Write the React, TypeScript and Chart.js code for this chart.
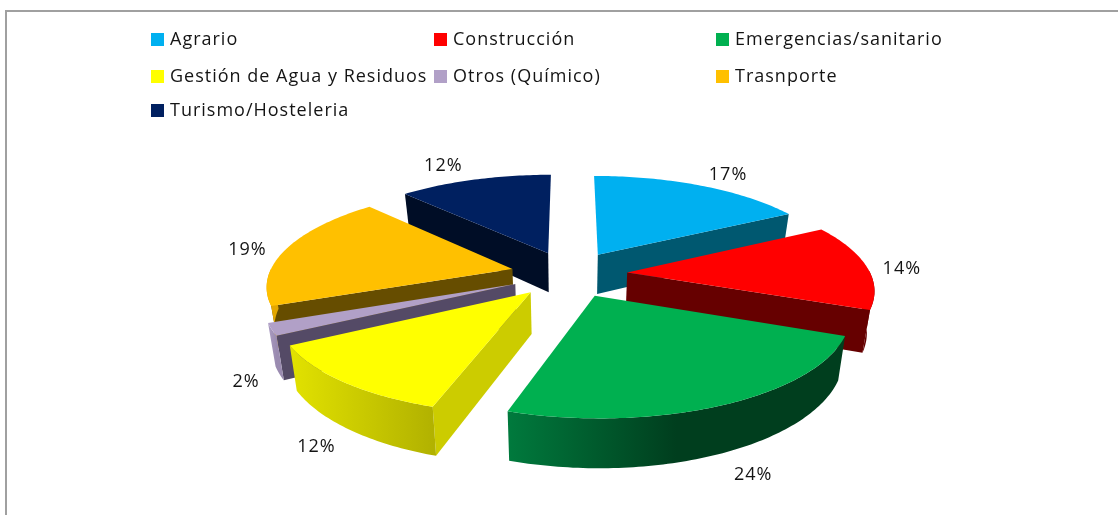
import React, { useEffect, useRef } from "react";
import { Chart, registerables } from "chart.js";

Chart.register(...registerables);

const categories = ["Agrario", "Construcción", "Emergencias/sanitario", "Gestión de Agua y Residuos", "Otros (Químico)", "Trasnporte", "Turismo/Hosteleria"];
const shares = [17, 14, 24, 12, 2, 19, 12];
const topColors = ["#00b0f0", "#ff0000", "#00b050", "#ffff00", "#b1a0c7", "#ffc000", "#002060"];
const cutColors = ["#005870", "#660000", "#004020", "#cccc00", "#544a66", "#664d00", "#000d26"];
const wallLeft = ["#005870", "#660000", "#007a3d", "#e2e200", "#ab9cc2", "#e6a800", "#000d26"];
const wallRight = ["#005870", "#660000", "#003e1e", "#b2b200", "#9a8bb0", "#cc9a00", "#000d26"];
const labelReach = [1.5, 1.38, 1.4, 1.4, 1.33, 1.4, 1.55];
const labelNudgeX = [4, 2, 4, 8, -2, -4, -12];
const labelNudgeY = [5, 3, -1, 0, 4, 4, 6];

const EXPLODE = 0.24;
const PERSPECTIVE = 0.154;
const SCALE_X = 1.01;
const SCALE_Y = 0.4;
const DEPTH = 40.5;
const FLOOR_SHRINK = 0.975;

const FONT = '18px "Open Sans"';
const TEXT_COLOR = "#141414";

const pie3d = {
  id: "pie3d",
  beforeDatasetDraw(chart: any) {
    const { ctx } = chart;
    const arcs = chart.getDatasetMeta(0).data as any[];
    const project = (arc: any, X: number, Y: number) => {
      const w = 1 + PERSPECTIVE * Y;
      return {
        x: arc.x + (arc.outerRadius * SCALE_X * X) / w,
        y: arc.y - (arc.outerRadius * SCALE_Y * Y) / w,
        d: DEPTH / w,
        fx: arc.x + ((arc.outerRadius * SCALE_X * X) / w) * FLOOR_SHRINK,
      };
    };
    const slices = arcs.map((arc, i) => {
      const mid = (arc.startAngle + arc.endAngle) / 2;
      const ex = Math.cos(mid) * EXPLODE;
      const ey = -Math.sin(mid) * EXPLODE;
      const apex = project(arc, ex, ey);
      const rim: any[] = [];
      const front: any[] = [];
      const n = Math.max(4, Math.ceil(((arc.endAngle - arc.startAngle) * 180) / Math.PI));
      for (let k = 0; k <= n; k++) {
        const a = arc.startAngle + ((arc.endAngle - arc.startAngle) * k) / n;
        const p = project(arc, ex + Math.cos(a), ey - Math.sin(a));
        rim.push(p);
        if (Math.sin(a) >= -0.02) front.push(p);
      }
      const midRim = project(arc, ex + Math.cos(mid), ey - Math.sin(mid));
      return { i, ey, apex, rim, front, midRim };
    });
    slices.sort((p, q) => q.ey - p.ey);
    const fillPoly = (pts: { x: number; y: number }[], fill: any) => {
      ctx.beginPath();
      pts.forEach((p, k) => (k ? ctx.lineTo(p.x, p.y) : ctx.moveTo(p.x, p.y)));
      ctx.closePath();
      ctx.fillStyle = fill;
      ctx.fill();
    };
    const colors = chart.data.datasets[0].backgroundColor as string[];
    ctx.save();
    for (const s of slices) {
      const { apex, rim, front, midRim, i } = s;
      // the two straight cut faces, only when they face the viewer
      for (const p of [rim[0], rim[rim.length - 1]]) {
        const ux = p.x - apex.x;
        const uy = p.y - apex.y;
        const sideTop = ux * (midRim.y - apex.y) - uy * (midRim.x - apex.x);
        if (sideTop * ux < 0 && Math.abs(ux) > 10) {
          fillPoly(
            [
              { x: apex.x, y: apex.y },
              { x: p.x, y: p.y },
              { x: p.fx, y: p.y + p.d },
              { x: apex.fx, y: apex.y + apex.d },
            ],
            cutColors[i]
          );
        }
      }
      // the curved outer wall, only where it faces the viewer
      if (front.length > 1) {
        const xs = rim.map((p) => p.x);
        const grad = ctx.createLinearGradient(Math.min(...xs), 0, Math.max(...xs), 0);
        grad.addColorStop(0, wallLeft[i]);
        grad.addColorStop(i === 2 ? 0.5 : 1, wallRight[i]);
        if (i === 2) grad.addColorStop(1, wallRight[i]);
        fillPoly(
          [
            ...front.map((p) => ({ x: p.x, y: p.y })),
            ...front.slice().reverse().map((p) => ({ x: p.fx, y: p.y + p.d })),
          ],
          grad
        );
      }
      // the top face
      fillPoly([apex, ...rim], colors[i]);
    }
    // percentage labels
    ctx.font = FONT;
    ctx.letterSpacing = "1px";
    ctx.fillStyle = TEXT_COLOR;
    ctx.textAlign = "center";
    ctx.textBaseline = "middle";
    arcs.forEach((arc, i) => {
      const mid = (arc.startAngle + arc.endAngle) / 2;
      const t = labelReach[i];
      const p = project(arc, Math.cos(mid) * t, -Math.sin(mid) * t);
      const below = -Math.sin(mid) < -0.3;
      ctx.fillText(`${shares[i]}%`, p.x + labelNudgeX[i], p.y + labelNudgeY[i] + (below ? p.d : 0));
    });
    ctx.restore();
    return false;
  },
};

const legend3col = {
  id: "legend3col",
  beforeDraw(chart: any) {
    const { ctx, width } = chart;
    ctx.save();
    // frame
    ctx.strokeStyle = "#a0a0a0";
    ctx.lineWidth = 2;
    ctx.beginPath();
    ctx.moveTo(6, chart.height);
    ctx.lineTo(6, 11);
    ctx.lineTo(width, 11);
    ctx.stroke();
    // legend
    const colX = [151, 434, 716];
    const rowY = [39, 76, 110];
    ctx.font = FONT;
    ctx.letterSpacing = "1px";
    ctx.textBaseline = "middle";
    ctx.textAlign = "left";
    chart.data.labels.forEach((label: string, i: number) => {
      const x = colX[i % 3];
      const y = rowY[Math.floor(i / 3)];
      ctx.fillStyle = chart.data.datasets[0].backgroundColor[i];
      ctx.fillRect(x, y - 6, 13, 13);
      ctx.fillStyle = TEXT_COLOR;
      ctx.fillText(label, x + 19, y + 1);
    });
    ctx.restore();
  },
};

export default function App() {
  const ref = useRef<HTMLCanvasElement>(null);
  useEffect(() => {
    const chart = new Chart(ref.current!, {
      type: "pie",
      data: {
        labels: categories,
        datasets: [{ data: shares, backgroundColor: topColors, borderWidth: 0 }],
      },
      options: {
        animation: false,
        responsive: false,
        layout: { padding: { left: 20, top: 33 } },
        plugins: { legend: { display: false }, tooltip: { enabled: false } },
      },
      plugins: [legend3col, pie3d],
    } as any);
    return () => chart.destroy();
  }, []);
  return (
    <div style={{ position: "fixed", left: 0, top: 0, width: 1118, height: 515, background: "#fff" }}>
      <canvas ref={ref} width={1118} height={515} style={{ display: "block" }} />
    </div>
  );
}
